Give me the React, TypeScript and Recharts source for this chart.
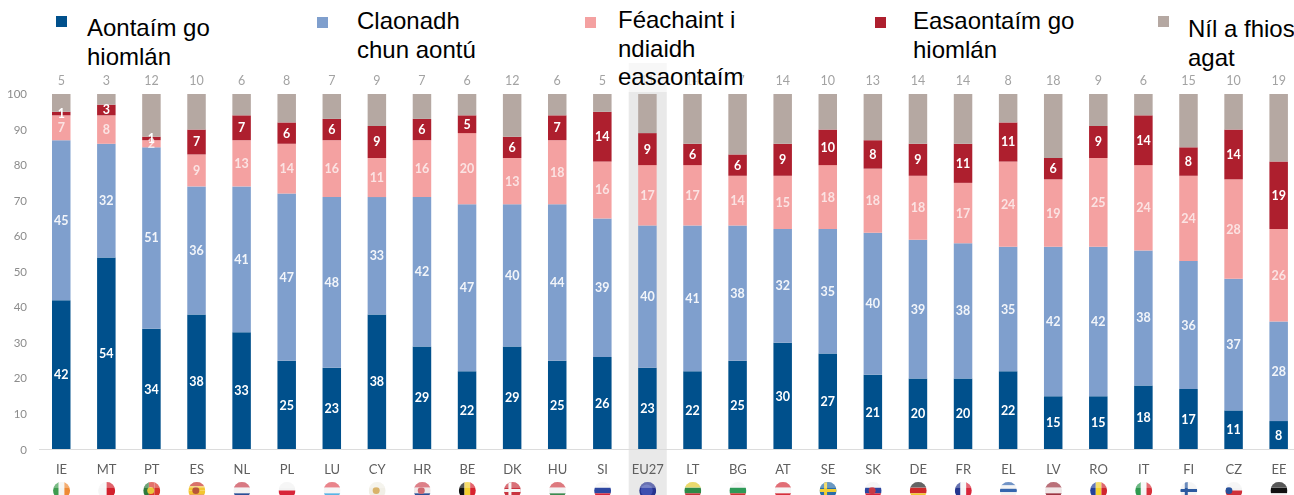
import { BarChart, Bar, XAxis, YAxis, LabelList, ReferenceArea } from "recharts";

const countries = ["IE", "MT", "PT", "ES", "NL", "PL", "LU", "CY", "HR", "BE", "DK", "HU", "SI", "EU27", "LT", "BG", "AT", "SE", "SK", "DE", "FR", "EL", "LV", "RO", "IT", "FI", "CZ", "EE"];
const agreeFully = [42, 54, 34, 38, 33, 25, 23, 38, 29, 22, 29, 25, 26, 23, 22, 25, 30, 27, 21, 20, 20, 22, 15, 15, 18, 17, 11, 8];
const tendToAgree = [45, 32, 51, 36, 41, 47, 48, 33, 42, 47, 40, 44, 39, 40, 41, 38, 32, 35, 40, 39, 38, 35, 42, 42, 38, 36, 37, 28];
const tendToDisagree = [7, 8, 2, 9, 13, 14, 16, 11, 16, 20, 13, 18, 16, 17, 17, 14, 15, 18, 18, 18, 17, 24, 19, 25, 24, 24, 28, 26];
const disagreeFully = [1, 3, 1, 7, 7, 6, 6, 9, 6, 5, 6, 7, 14, 9, 6, 6, 9, 10, 8, 9, 11, 11, 6, 9, 14, 8, 14, 19];
const dontKnow = [5, 3, 12, 10, 6, 8, 7, 9, 7, 6, 12, 6, 5, 11, 14, 17, 14, 10, 13, 14, 14, 8, 18, 9, 6, 15, 10, 19];
const yTicks = [0, 10, 20, 30, 40, 50, 60, 70, 80, 90, 100];

const NAVY = "#00508c";
const BLUE = "#7f9fcd";
const PINK = "#f4a1a1";
const RED = "#ae1f2e";
const TAUPE = "#b5a8a2";

const data = countries.map((code, i) => ({
  code,
  agreeFully: agreeFully[i],
  tendToAgree: tendToAgree[i],
  tendToDisagree: tendToDisagree[i],
  disagreeFully: disagreeFully[i],
  dontKnow: dontKnow[i],
}));

// legend sits over the chart like the pasted text boxes in the source image
const legendItems = [
  { color: NAVY, lines: ["Aontaím go", "hiomlán"], boxX: 56, boxY: 16, textX: 87, textY: 14 },
  { color: BLUE, lines: ["Claonadh", "chun aontú"], boxX: 317, boxY: 17, textX: 357, textY: 7 },
  { color: PINK, lines: ["Féachaint i", "ndiaidh", "easaontaím"], boxX: 585, boxY: 17, textX: 618, textY: 6 },
  { color: RED, lines: ["Easaontaím go", "hiomlán"], boxX: 875, boxY: 17, textX: 913, textY: 7 },
  { color: TAUPE, lines: ["Níl a fhios", "agat"], boxX: 1158, boxY: 16, textX: 1188, textY: 15 },
];

type Flag = { dir: "h" | "v"; colors: string[]; cross?: string; dot?: string };

const flags: Record<string, Flag> = {
  IE: { dir: "v", colors: ["#3f9c4f", "#f4f4f0", "#ee8a35"] },
  MT: { dir: "v", colors: ["#f5f5f5", "#d3202c"] },
  PT: { dir: "v", colors: ["#2f7a3c", "#d8352c", "#d8352c"], dot: "#e8c53a" },
  ES: { dir: "h", colors: ["#c9342a", "#f3c531", "#f3c531", "#c9342a"], dot: "#b8553a" },
  NL: { dir: "h", colors: ["#c8404c", "#f2f2f2", "#2b4f96"] },
  PL: { dir: "h", colors: ["#f3f3f3", "#d8263a"] },
  LU: { dir: "h", colors: ["#e0505a", "#f5f5f5", "#5ab4e4"] },
  CY: { dir: "h", colors: ["#f1efe6"], dot: "#d9b36a" },
  HR: { dir: "h", colors: ["#cf4a55", "#f0e8e8", "#2b4f96"], dot: "#cf6a70" },
  BE: { dir: "v", colors: ["#111111", "#f4cf30", "#d8232e"] },
  DK: { dir: "h", colors: ["#c9343f"], cross: "#f4f4f4" },
  HU: { dir: "h", colors: ["#cf3f47", "#f3f3f3", "#3c8a50"] },
  SI: { dir: "h", colors: ["#f4f4f4", "#2d47a0", "#d8263a"] },
  EU27: { dir: "h", colors: ["#27338f"], dot: "#3f4fb0" },
  LT: { dir: "h", colors: ["#e2c92e", "#2f8a48", "#c8323a"] },
  BG: { dir: "h", colors: ["#f3f3f3", "#2f9a58", "#cf3535"] },
  AT: { dir: "h", colors: ["#d5303c", "#f5f5f5", "#d5303c"] },
  SE: { dir: "h", colors: ["#2a6ea8"], cross: "#f0cf35" },
  SK: { dir: "h", colors: ["#f2f2f2", "#2d47a0", "#d8263a"], dot: "#c83a45" },
  DE: { dir: "h", colors: ["#222222", "#cf2a2a", "#f2c92e"] },
  FR: { dir: "v", colors: ["#24368f", "#f5f5f5", "#d8263a"] },
  EL: { dir: "h", colors: ["#3566ae", "#f1f1f1", "#3566ae", "#f1f1f1", "#3566ae"] },
  LV: { dir: "h", colors: ["#9c3340", "#f0e6e6", "#9c3340"] },
  RO: { dir: "v", colors: ["#24419a", "#f4d22e", "#d0262e"] },
  IT: { dir: "v", colors: ["#2f9a4f", "#f5f5f5", "#d8303a"] },
  FI: { dir: "h", colors: ["#f2f2f2"], cross: "#2c5aa0" },
  CZ: { dir: "h", colors: ["#f3f3f3", "#d0303a"], dot: "#27509a" },
  EE: { dir: "h", colors: ["#111111", "#111111", "#f3f3f3"] },
};

function CountryTick({ x, y, payload }: any) {
  const code: string = payload.value;
  const flag = flags[code];
  const r = 8.5;
  const cy = y + 33;
  const n = flag.colors.length;
  return (
    <g>
      <text x={x} y={y + 16} textAnchor="middle" fontSize={13} fill="#5f5f5f" fontFamily="Lato, sans-serif">
        {code}
      </text>
      <clipPath id={`flag-${code}`}>
        <circle cx={x} cy={cy} r={r} />
      </clipPath>
      <g clipPath={`url(#flag-${code})`}>
        {flag.colors.map((c, i) =>
          flag.dir === "h" ? (
            <rect key={i} x={x - r} y={cy - r + (i * 2 * r) / n} width={2 * r} height={(2 * r) / n} fill={c} />
          ) : (
            <rect key={i} x={x - r + (i * 2 * r) / n} y={cy - r} width={(2 * r) / n} height={2 * r} fill={c} />
          )
        )}
        {flag.cross && (
          <g fill={flag.cross}>
            <rect x={x - r} y={cy - 1.5} width={2 * r} height={3} />
            <rect x={x - 4} y={cy - r} width={3} height={2 * r} />
          </g>
        )}
        {flag.dot && <circle cx={code === "CZ" ? x - 5 : x - 1} cy={cy} r={code === "EU27" ? 6 : 3.5} fill={flag.dot} />}
        <rect x={x - r} y={cy - r} width={2 * r} height={r * 0.7} fill="#ffffff" opacity={0.3} />
      </g>
    </g>
  );
}

// grey column behind EU27 runs past the plot on both ends
function Eu27Band({ x, width }: any) {
  return <rect x={x + 3.5} y={63} width={width - 7} height={432} fill="#e9e9e9" />;
}

const barLabel = { fill: "#ffffff", fontSize: 12.5, fontWeight: 700, fontFamily: "Lato, sans-serif" };

export default function App() {
  return (
    <div style={{ position: "absolute", left: 0, top: 0, width: 1294, height: 495, overflow: "hidden", background: "#fff" }}>
      <div style={{ filter: "blur(0.4px)" }}>
        <BarChart
          width={1320}
          height={495}
          data={data}
          margin={{ top: 94, right: 18.5, left: 0, bottom: 0 }}
          barSize={18.5}
        >
          <XAxis
            dataKey="code"
            height={45.5}
            interval={0}
            tickLine={false}
            axisLine={{ stroke: "#dcdcdc" }}
            tick={CountryTick}
          />
          <YAxis
            width={39}
            domain={[0, 100]}
            ticks={yTicks}
            interval={0}
            axisLine={false}
            tickLine={false}
            tickSize={0}
            tickMargin={12}
            tick={{ fill: "#8c8c8c", fontSize: 11.5, fontFamily: "Lato, sans-serif" }}
          />
          <ReferenceArea x1="EU27" x2="EU27" ifOverflow="visible" shape={Eu27Band} />
          <Bar dataKey="agreeFully" stackId="a" fill={NAVY} isAnimationActive={false}>
            <LabelList dataKey="agreeFully" position="center" style={barLabel} />
          </Bar>
          <Bar dataKey="tendToAgree" stackId="a" fill={BLUE} isAnimationActive={false}>
            <LabelList dataKey="tendToAgree" position="center" style={{ ...barLabel, opacity: 0.9 }} />
          </Bar>
          <Bar dataKey="tendToDisagree" stackId="a" fill={PINK} isAnimationActive={false}>
            <LabelList dataKey="tendToDisagree" position="center" style={{ ...barLabel, opacity: 0.7 }} />
          </Bar>
          <Bar dataKey="disagreeFully" stackId="a" fill={RED} isAnimationActive={false}>
            <LabelList dataKey="disagreeFully" position="center" style={barLabel} />
          </Bar>
          <Bar dataKey="dontKnow" stackId="a" fill={TAUPE} isAnimationActive={false}>
            <LabelList
              dataKey="dontKnow"
              position="top"
              offset={9}
              style={{ fill: "#a3a3a3", fontSize: 12.5, fontFamily: "Lato, sans-serif" }}
            />
          </Bar>
        </BarChart>
      </div>
      {legendItems.map((item) => (
        <div key={item.lines[0]}>
          <div
            style={{ position: "absolute", left: item.boxX, top: item.boxY, width: 11, height: 11, background: item.color }}
          />
          <div
            style={{
              position: "absolute",
              left: item.textX,
              top: item.textY,
              font: "24px/28.5px 'Liberation Sans', Arial, sans-serif",
              color: "#000",
              whiteSpace: "nowrap",
            }}
          >
            {item.lines.map((line, i) => (
              <div key={line} style={i === 2 ? { background: "rgba(255,255,255,0.65)", marginRight: 4 } : undefined}>
                {line}
              </div>
            ))}
          </div>
        </div>
      ))}
    </div>
  );
}
